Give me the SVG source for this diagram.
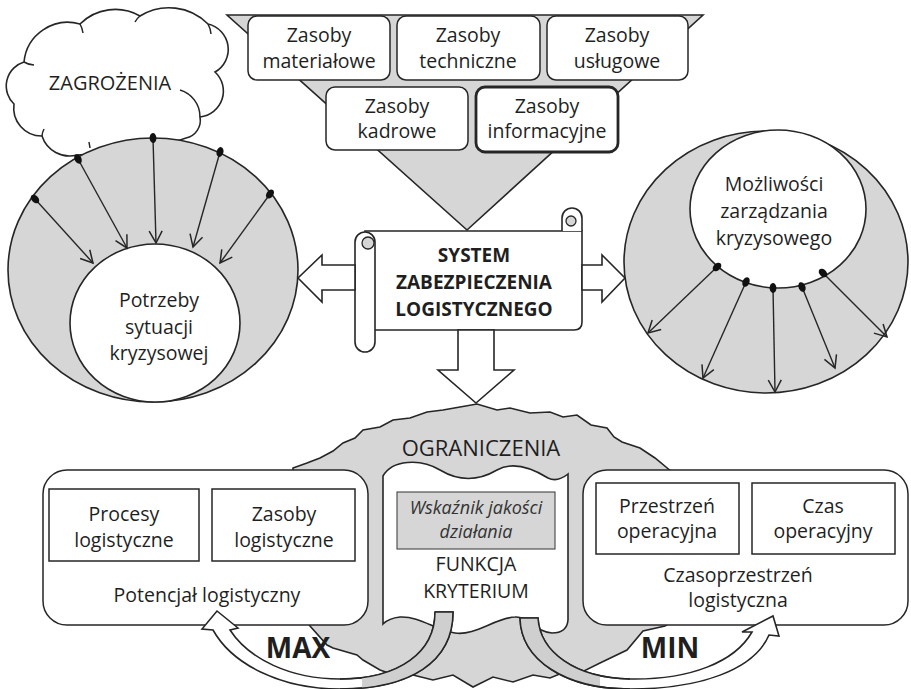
<svg xmlns="http://www.w3.org/2000/svg" width="911" height="689" viewBox="0 0 911 689">
  <defs>
    <style>
      .wh{fill:#fff;stroke:#262626;stroke-width:1.6}
      .gy{fill:#d6d6d6;stroke:#262626;stroke-width:1.6}
      .ln{fill:none;stroke:#262626;stroke-width:1.5}
      .box{fill:#fff;stroke:#262626;stroke-width:1.5}
      .tx{font-family:"Open Sans","Liberation Sans",sans-serif;font-size:19.5px;fill:#1f1f1f;text-anchor:middle}
      .bd{font-weight:bold}
      .it{font-style:italic;font-size:18px;fill:#333}
      .ray{fill:none;stroke:#262626;stroke-width:1.4;marker-start:url(#dot);marker-end:url(#vee)}
    </style>
    <marker id="dot" viewBox="-6 -4 12 8" markerWidth="12" markerHeight="8" markerUnits="userSpaceOnUse" orient="auto" refX="0" refY="0">
      <ellipse rx="5" ry="3.4" fill="#111"/>
    </marker>
    <marker id="vee" viewBox="-13 -8 15 16" markerWidth="15" markerHeight="16" markerUnits="userSpaceOnUse" orient="auto" refX="0" refY="0">
      <path d="M-12,-6.5 L0,0 L-12,6.5" fill="none" stroke="#262626" stroke-width="1.5"/>
    </marker>
    <clipPath id="maxBack"><rect x="362" y="600" width="110" height="95"/></clipPath>
    <clipPath id="minBack"><rect x="500" y="600" width="100" height="95"/></clipPath>
  </defs>

  <rect width="911" height="689" fill="#fff"/>

  <!-- threats cloud -->
  <g id="zagrozenia">
    <path class="wh" d="M77,155 A29,29 0 0 1 42,136 A28,28 0 0 1 14,104 A25,25 0 0 1 24,62 A44,44 0 0 1 80,24 A50,50 0 0 1 140,16 A55,55 0 0 1 208,24 A26,26 0 0 1 215,72 A26,26 0 0 1 200,117 A18,18 0 0 1 186,138 L150,150 Z"/>
    <path class="ln" d="M24,62 a20,20 0 0 0 10,3 M80,24 a24,24 0 0 1 3,9 M140,16 a18,18 0 0 0 -5,6 M208,24 a24,24 0 0 1 3,10 M180,90 A28,28 0 0 1 200,117 M42,136 a18,18 0 0 1 2,-7 M90,148 l-1,-6"/>
    <text class="tx" x="110" y="90" style="font-size:20px">ZAGROŻENIA</text>
  </g>

  <!-- needs of the crisis situation -->
  <g id="potrzeby">
    <ellipse class="gy" cx="153" cy="270" rx="145" ry="132"/>
    <ellipse class="wh" cx="155" cy="323" rx="85" ry="79"/>
    <text class="tx" x="159" y="307">Potrzeby</text>
    <text class="tx" x="159" y="334">sytuacji</text>
    <text class="tx" x="159" y="360">kryzysowej</text>
  </g>

  <!-- crisis management capabilities -->
  <g id="mozliwosci">
    <ellipse class="gy" cx="766" cy="262" rx="142" ry="131"/>
    <ellipse class="wh" cx="778" cy="209" rx="88" ry="79"/>
    <text class="tx" x="774" y="191">Możliwości</text>
    <text class="tx" x="774" y="218">zarządzania</text>
    <text class="tx" x="774" y="245">kryzysowego</text>
  </g>

  <!-- resources funnel -->
  <g id="lejek">
    <path class="gy" d="M227,15 L703,15 L467,230 Z"/>
  </g>
  <g id="zasoby-materialowe">
    <rect class="box" x="248" y="16" width="142" height="64" rx="9"/>
    <text class="tx" x="319" y="42">Zasoby</text>
    <text class="tx" x="319" y="68">materiałowe</text>
  </g>
  <g id="zasoby-techniczne">
    <rect class="box" x="397" y="16" width="143" height="64" rx="9"/>
    <text class="tx" x="468" y="42">Zasoby</text>
    <text class="tx" x="468" y="68">techniczne</text>
  </g>
  <g id="zasoby-uslugowe">
    <rect class="box" x="547" y="16" width="141" height="64" rx="9"/>
    <text class="tx" x="617" y="42">Zasoby</text>
    <text class="tx" x="617" y="68">usługowe</text>
  </g>
  <g id="zasoby-kadrowe">
    <rect class="box" x="326" y="87" width="142" height="63" rx="9"/>
    <text class="tx" x="397" y="113">Zasoby</text>
    <text class="tx" x="397" y="138">kadrowe</text>
  </g>
  <g id="zasoby-informacyjne">
    <rect class="box" x="476" y="87" width="142" height="65" rx="9" style="stroke-width:2.8"/>
    <text class="tx" x="547" y="113">Zasoby</text>
    <text class="tx" x="547" y="138">informacyjne</text>
  </g>

  <!-- central scroll -->
  <g id="system">
    <path class="wh" d="M365,231 H582 V322 Q582,330 574,330 H370 Z"/>
    <path class="wh" d="M562,231 V218 A10,10 0 0 1 582,218 V231"/>
    <circle cx="571" cy="221" r="5" fill="#d6d6d6" stroke="#262626" stroke-width="1.3"/>
    <rect class="wh" x="355" y="232" width="20" height="120" rx="10"/>
    <circle cx="368" cy="243" r="6" fill="#d6d6d6" stroke="#262626" stroke-width="1.3"/>
    <text class="tx bd" x="474" y="262" style="font-size:19px">SYSTEM</text>
    <text class="tx bd" x="474" y="289" style="font-size:19px">ZABEZPIECZENIA</text>
    <text class="tx bd" x="474" y="316" style="font-size:19px">LOGISTYCZNEGO</text>
  </g>

  <!-- constraints -->
  <g id="ograniczenia">
    <path class="gy" d="M293,468 L307,463 L320,458 L333,451 L343,443 L355,438 L363,430 L380,427 L393,420 L410,418 L427,412 L443,410 L460,407 L477,404 L497,410 L510,408 L530,413 L550,412 L563,417 L577,415 L591,425 L607,428 L614,437 L622,442 L640,448 L655,458 L672,472 L690,490 L690,610 L665,626 L643,631 L627,650 L600,663 L580,673 L567,671 L550,678 L533,675 L513,682 L493,677 L473,687 L453,675 L433,680 L413,675 L400,677 L380,670 L363,660 L357,655 L333,648 L327,645 L310,626 L293,600 Z"/>
    <text class="tx" x="481" y="456" style="font-size:22px">OGRANICZENIA</text>
  </g>

  <!-- logistic potential -->
  <g id="potencjal">
    <rect class="box" x="43" y="470" width="325" height="155" rx="24"/>
    <rect class="box" x="49" y="489" width="150" height="72"/>
    <rect class="box" x="212" y="489" width="143" height="72"/>
    <text class="tx" x="124" y="521">Procesy</text>
    <text class="tx" x="124" y="547">logistyczne</text>
    <text class="tx" x="284" y="521">Zasoby</text>
    <text class="tx" x="284" y="547">logistyczne</text>
    <text class="tx" x="207" y="602">Potencjał logistyczny</text>
  </g>

  <!-- logistic space-time -->
  <g id="czasoprzestrzen">
    <rect class="box" x="583" y="470" width="325" height="155" rx="24"/>
    <rect class="box" x="596" y="483" width="143" height="71"/>
    <rect class="box" x="752" y="483" width="143" height="71"/>
    <text class="tx" x="667" y="513">Przestrzeń</text>
    <text class="tx" x="667" y="538">operacyjna</text>
    <text class="tx" x="823" y="513">Czas</text>
    <text class="tx" x="823" y="538">operacyjny</text>
    <text class="tx" x="738" y="582">Czasoprzestrzeń</text>
    <text class="tx" x="738" y="607">logistyczna</text>
  </g>

  <!-- criterion function -->
  <g id="funkcja">
    <path class="wh" d="M383,476 C392,460 420,458 440,470 C460,482 480,480 497,470 C515,460 535,470 548,478 C556,482 563,478 568,474 L568,620 Q567,633 552,633 C535,632 528,616 515,617 C495,618 475,636 455,633 C435,630 420,616 400,617 C390,618 385,622 383,624 Z"/>
    <rect x="397" y="492" width="158" height="57" fill="#d6d6d6" stroke="#444" stroke-width="1.1"/>
    <text class="tx it" x="476" y="514">Wskaźnik jakości</text>
    <text class="tx it" x="476" y="538">działania</text>
    <text class="tx" x="476" y="571">FUNKCJA</text>
    <text class="tx" x="476" y="598">KRYTERIUM</text>
  </g>

  <!-- connectors -->
  <g id="connectors">
    <polygon class="wh" points="355,265 322,265 322,255 298,278 322,302 322,290 355,290"/>
    <polygon class="wh" points="582,265 602,265 602,255 625,278 602,302 602,290 582,290"/>
    <polygon class="wh" points="458,330 458,370 438,370 476,403 514,370 494,370 494,330"/>

    <line class="ray" x1="35" y1="199" x2="93" y2="263"/>
    <line class="ray" x1="78" y1="159" x2="127" y2="248"/>
    <line class="ray" x1="153" y1="138" x2="156" y2="243"/>
    <line class="ray" x1="220" y1="152" x2="193" y2="247"/>
    <line class="ray" x1="270" y1="194" x2="220" y2="263"/>

    <line class="ray" x1="717" y1="267" x2="648" y2="333"/>
    <line class="ray" x1="746" y1="282" x2="703" y2="378"/>
    <line class="ray" x1="773" y1="288" x2="775" y2="392"/>
    <line class="ray" x1="802" y1="287" x2="835" y2="368"/>
    <line class="ray" x1="823" y1="273" x2="887" y2="337"/>

    <path class="wh" d="M435,612 L453,612 C453,662 410,689 340,689 C280,689 232,664 213,630 L202,629 L217,611 L238,628 L230,630 C249,659 290,679 340,679 C400,679 435,652 435,612 Z"/>
    <path d="M435,612 L453,612 C453,662 410,689 340,689 L340,679 C400,679 435,652 435,612 Z" fill="#cfcfcf" clip-path="url(#maxBack)"/>
    <path class="ln" d="M435,612 L453,612 C453,662 410,689 340,689 M340,679 C400,679 435,652 435,612"/>

    <path class="wh" d="M520,618 L538,618 C540,652 575,678 630,679 C690,680 735,662 752,632 L742,632 L773,616 L779,636 L769,635 C754,670 700,689 630,689 C565,689 521,660 520,618 Z"/>
    <path d="M520,618 L538,618 C540,652 575,678 630,679 L630,689 C565,689 521,660 520,618 Z" fill="#cfcfcf" clip-path="url(#minBack)"/>
    <path class="ln" d="M520,618 L538,618 C540,652 575,678 630,679 M630,689 C565,689 521,660 520,618"/>

    <text class="tx bd" x="298" y="658" style="font-size:28px">MAX</text>
    <text class="tx bd" x="670" y="658" style="font-size:28px">MIN</text>
  </g>
</svg>
